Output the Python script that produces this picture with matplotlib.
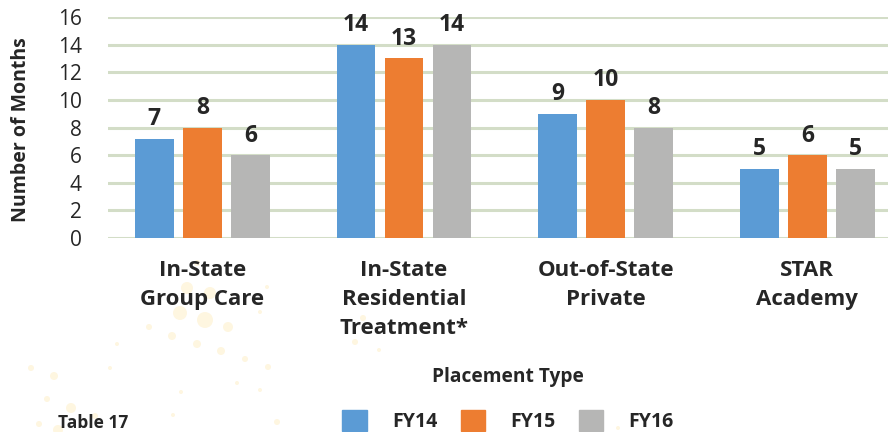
import matplotlib
matplotlib.use("Agg")
import matplotlib.pyplot as plt
from matplotlib.patches import Patch, Circle
from matplotlib.transforms import IdentityTransform
import numpy as np

categories = ["In-State\nGroup Care", "In-State\nResidential\nTreatment*",
              "Out-of-State\nPrivate", "STAR\nAcademy"]
series_names = ["FY14", "FY15", "FY16"]
fy14 = [7.2, 14, 9, 5]
fy15 = [8, 13, 10, 6]
fy16 = [6, 14, 8, 5]
labels14 = ["7", "14", "9", "5"]
labels15 = ["8", "13", "10", "6"]
labels16 = ["6", "14", "8", "5"]
yticks = [0, 2, 4, 6, 8, 10, 12, 14, 16]
colors = ["#5B9BD5", "#ED7D31", "#B6B6B5"]
text_color = "#262626"

# faint decorative background dots (pixel x, pixel y from top, radius px)
deco_dots = [(197, 263, 3), (187, 288, 6), (210, 293, 6), (180, 313, 7), (205, 320, 8),
             (228, 327, 5), (149, 327, 3), (172, 336, 4), (197, 344, 4), (221, 351, 4),
             (245, 359, 3), (268, 367, 3), (117, 344, 2), (110, 368, 2), (31, 368, 3),
             (54, 376, 4), (47, 399, 3), (71, 408, 5), (95, 416, 3), (39, 424, 3),
             (173, 415, 2), (181, 392, 2), (237, 383, 2), (260, 390, 2), (277, 422, 3),
             (267, 287, 2), (260, 312, 2), (58, 430, 5), (363, 318, 3), (355, 342, 3),
             (379, 350, 2), (618, 428, 2)]

plt.rcParams['font.family'] = ['Open Sans', 'DejaVu Sans']

fig = plt.figure(figsize=(8.88, 4.32), dpi=100)
for (px, py, r) in deco_dots:
    fig.add_artist(Circle((px, 432 - py), r, transform=IdentityTransform(),
                          color="#FEF6E0", zorder=-1, lw=0))

ax = fig.add_axes([108/888, 1-238/432, 1-108/888, (238-17)/432])
ax.patch.set_alpha(0)

x = np.arange(len(categories))
bw = 0.193
step = 0.238
for i, (vals, labs) in enumerate(zip([fy14, fy15, fy16], [labels14, labels15, labels16])):
    pos = x + (i - 1) * step
    ax.bar(pos, vals, width=bw, color=colors[i], zorder=3, label=series_names[i])
    for p, v, l in zip(pos, vals, labs):
        ax.text(p, v + 0.55, l, ha='center', va='bottom', fontsize=16.5, fontweight='bold',
                color=text_color)

ax.set_ylim(0, 16)
ax.set_xlim(-0.468, 3.40)
ax.set_yticks(yticks)
ax.set_yticklabels([str(t) for t in yticks], fontsize=15, color=text_color)
ax.yaxis.grid(True, color="#D3DDC7", linewidth=2.2, zorder=0)
ax.set_axisbelow(True)
for s in ax.spines.values():
    s.set_visible(False)
ax.tick_params(axis='y', length=0, pad=19)
ax.tick_params(axis='x', length=0, pad=16)
ax.set_xticks(x)
ax.set_xticklabels(categories, fontsize=16, fontweight='bold', color=text_color,
                   linespacing=1.5, va='top')
ax.set_ylabel("Number of Months", fontsize=14, fontweight='bold', color=text_color)
ax.yaxis.set_label_coords(-(108-31)/780, 0.49)

fig.text(508/888, 1-377/432, "Placement Type", ha='center', va='center',
         fontsize=13.8, fontweight='bold', color=text_color)
fig.text(58/888, 1-423/432, "Table 17", ha='left', va='center',
         fontsize=12.5, fontweight='bold', color=text_color)

handles = [Patch(color=c) for c in colors]
fig.legend(handles, series_names, loc='center', bbox_to_anchor=(508/888, 1-421/432),
           ncol=3, frameon=False, handlelength=1.25, handleheight=1.25,
           handletextpad=1.3, columnspacing=1.2, prop={'weight': 'bold', 'size': 14})
for t in fig.legends[0].get_texts():
    t.set_color(text_color)

fig.savefig("out.png", dpi=100)
